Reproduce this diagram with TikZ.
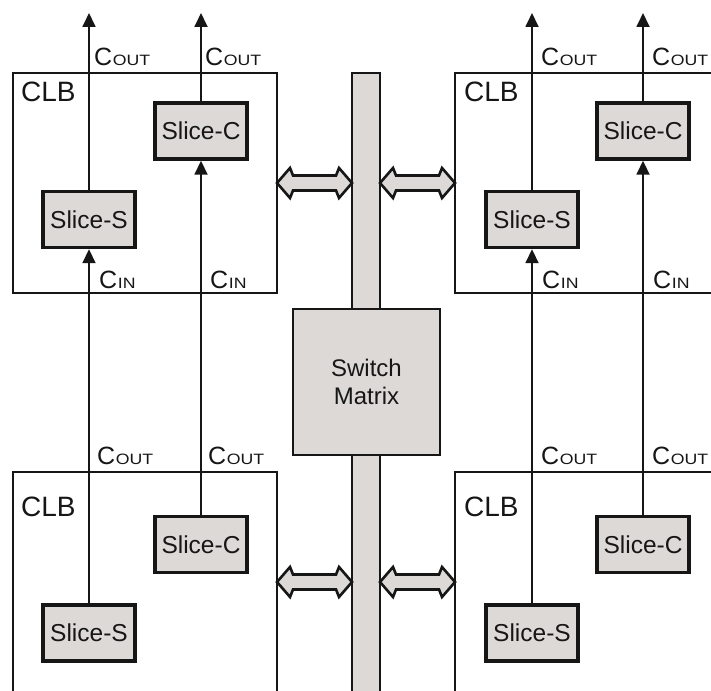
\documentclass[tikz,border=0pt]{standalone}
\usepackage{fontspec}
\usepackage{graphicx}
\setmainfont{Liberation Sans}
\usetikzlibrary{arrows.meta}
\definecolor{slicegray}{RGB}{221,217,214}
\definecolor{ink}{RGB}{22,22,22}
% carry label: a large C with a small, slightly widened subscript on the same baseline
\newcommand\carry[1]{C\kern0.6pt{\fontsize{15}{15}\selectfont\scalebox{1.18}[1]{#1}}}
% bidirectional link between a CLB and the routing channel: #1 left x, #2 right x, #3 centre y
\newcommand\biarrow[3]{%
  \draw[link] (#1,#3) -- ++(13,-15) -- ++(3,7.5) -- ({#2-16},{#3-7.5}) -- ++(3,-7.5)
    -- (#2,#3) -- ++(-13,15) -- ++(-3,-7.5) -- ({#1+16},{#3+7.5}) -- ++(-3,7.5) -- cycle;}
\begin{document}
\begin{tikzpicture}[x=1pt,y=-1pt,
  clb/.style={draw=ink,line width=2.8pt},
  slice/.style={draw=ink,fill=slicegray,line width=3.4pt,minimum width=92pt,
    minimum height=56pt,inner sep=0pt,font=\fontsize{24.5}{24.5}\selectfont,text=ink},
  carrywire/.style={draw=ink,line width=1.8pt},
  tip/.style={-{Triangle[width=13pt,length=14pt]}},
  lbl/.style={anchor=base west,inner sep=0pt,font=\fontsize{25}{25}\selectfont,text=ink},
  clbname/.style={anchor=base west,inner sep=0pt,font=\fontsize{28}{28}\selectfont,text=ink},
  bus/.style={draw=ink,fill=slicegray,line width=2.8pt},
  link/.style={draw=ink,fill=slicegray,line width=2.6pt,line join=miter}]
\useasboundingbox (0,0) rectangle (711,690);
\fill[white] (0,0) rectangle (711,690);
\clip (0,0) rectangle (711,690);

% CLB outlines
\draw[clb] (13,73) rectangle (277,293);
\draw[clb] (455,73) rectangle (740,293);
\draw[clb] (13,472) rectangle (277,720);
\draw[clb] (455,472) rectangle (740,720);

\node[clbname] (clbA) at (21,102) {CLB};
\node[clbname] (clbB) at (464,102) {CLB};
\node[clbname] (clbC) at (21,516) {CLB};
\node[clbname] (clbD) at (464,516) {CLB};

% routing channel and switch matrix
\draw[bus] (352,73) rectangle (380,720);
\node[bus,minimum width=147pt,minimum height=146pt,align=center,
  font=\fontsize{24}{28.5}\selectfont,text=ink] (sm) at (366.5,382) {Switch\\Matrix};

% links between the CLBs and the channel
\biarrow{277}{352}{183}
\biarrow{380}{455}{183}
\biarrow{277}{352}{582}
\biarrow{380}{455}{582}

% slices
\node[slice] (sA) at (89,219.5) {Slice-S};
\node[slice] (cA) at (201,131) {Slice-C};
\node[slice] (sB) at (532,219.5) {Slice-S};
\node[slice] (cB) at (643,131) {Slice-C};
\node[slice] (sC) at (89,633) {Slice-S};
\node[slice] (cC) at (201,544.5) {Slice-C};
\node[slice] (sD) at (532,633) {Slice-S};
\node[slice] (cD) at (643,544.5) {Slice-C};

% carry chain outputs leaving the upper CLBs
\coordinate (oA) at (89,13);
\coordinate (oAc) at (201,13);
\coordinate (oB) at (532,13);
\coordinate (oBc) at (643,13);
\draw[carrywire,tip] (sA.north) -- (oA);
\draw[carrywire,tip] (cA.north) -- (oAc);
\draw[carrywire,tip] (sB.north) -- (oB);
\draw[carrywire,tip] (cB.north) -- (oBc);

% carry chains from the lower CLBs into the upper ones
\draw[carrywire,tip] (sC.north) -- (sA.south);
\draw[carrywire,tip] (cC.north) -- (cA.south);
\draw[carrywire,tip] (sD.north) -- (sB.south);
\draw[carrywire,tip] (cD.north) -- (cB.south);

% carry labels
\node[lbl] (coA) at (94,66) {\carry{OUT}};
\node[lbl] (coAc) at (205,66) {\carry{OUT}};
\node[lbl] (coB) at (541,66) {\carry{OUT}};
\node[lbl] (coBc) at (652,66) {\carry{OUT}};
\node[lbl] (ciA) at (99,288) {\carry{IN}};
\node[lbl] (ciAc) at (210,288) {\carry{IN}};
\node[lbl] (ciB) at (542,288) {\carry{IN}};
\node[lbl] (ciBc) at (653,288) {\carry{IN}};
\node[lbl] (coC) at (97,464) {\carry{OUT}};
\node[lbl] (coCc) at (208,464) {\carry{OUT}};
\node[lbl] (coD) at (541,464) {\carry{OUT}};
\node[lbl] (coDc) at (652,464) {\carry{OUT}};
\end{tikzpicture}
\end{document}
